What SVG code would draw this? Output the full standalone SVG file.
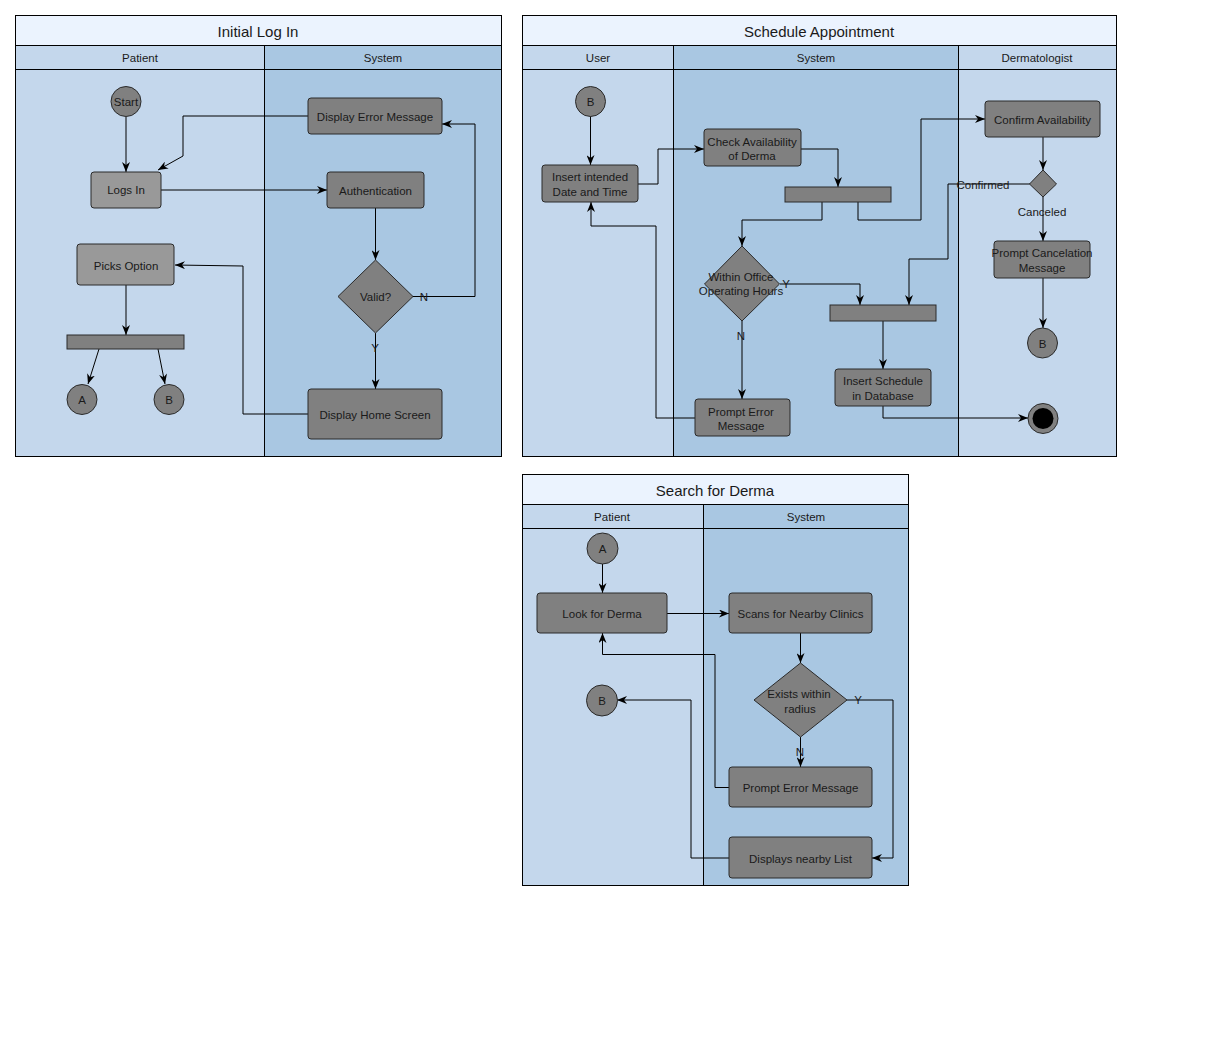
<svg xmlns="http://www.w3.org/2000/svg" width="1226" height="1058" viewBox="0 0 1226 1058">
<style>
text{font-family:"Liberation Sans",Arial,sans-serif;fill:#1a1a1a;font-size:11.5px;text-anchor:middle;dominant-baseline:central}
.title{font-size:15px}
.tb{fill:#ebf3fe;stroke:#000;stroke-width:1}
.la{fill:#c4d7ec;stroke:#000;stroke-width:1}
.lb{fill:#a9c7e2;stroke:#000;stroke-width:1}
.n{fill:#808080;stroke:#2a2a2a;stroke-width:1}
.nl{fill:#999999;stroke:#2a2a2a;stroke-width:1}
.c{fill:none;stroke:#000;stroke-width:1;marker-end:url(#ah)}
.cn{fill:none;stroke:#000;stroke-width:1}
</style>
<defs>
<marker id="ah" viewBox="0 0 10 8" refX="10" refY="4" markerWidth="10" markerHeight="8" orient="auto" markerUnits="userSpaceOnUse">
<path d="M0,0 L10,4 L0,8 L3,4 Z" fill="#000"/>
</marker>
</defs>
<rect width="1226" height="1058" fill="#fff"/>

<!-- Pool: Initial Log In -->
<g id="pool-login">
<rect class="la" x="15.5" y="45.5" width="249" height="411"/>
<rect class="lb" x="264.5" y="45.5" width="237" height="411"/>
<line class="cn" x1="15.5" y1="69.5" x2="501.5" y2="69.5"/>
<rect class="tb" x="15.5" y="15.5" width="486" height="30"/>
<text class="title" x="258" y="31">Initial Log In</text>
<text x="140" y="58">Patient</text>
<text x="383" y="58">System</text>
</g>

<!-- Pool: Schedule Appointment -->
<g id="pool-schedule">
<rect class="la" x="522.5" y="45.5" width="151" height="411"/>
<rect class="lb" x="673.5" y="45.5" width="285" height="411"/>
<rect class="la" x="958.5" y="45.5" width="158" height="411"/>
<line class="cn" x1="522.5" y1="69.5" x2="1116.5" y2="69.5"/>
<rect class="tb" x="522.5" y="15.5" width="594" height="30"/>
<text class="title" x="819" y="31">Schedule Appointment</text>
<text x="598" y="58">User</text>
<text x="816" y="58">System</text>
<text x="1037" y="58">Dermatologist</text>
</g>

<!-- Pool: Search for Derma -->
<g id="pool-search">
<rect class="la" x="522.5" y="504.5" width="181" height="381"/>
<rect class="lb" x="703.5" y="504.5" width="205" height="381"/>
<line class="cn" x1="522.5" y1="528.5" x2="908.5" y2="528.5"/>
<rect class="tb" x="522.5" y="474.5" width="386" height="30"/>
<text class="title" x="715" y="490">Search for Derma</text>
<text x="612" y="517">Patient</text>
<text x="806" y="517">System</text>
</g>

<!-- Connectors -->
<g id="connectors">
<!-- Initial Log In -->
<path class="c" d="M126,117 V172"/>
<path class="c" d="M308,116 H183 V156 L158,170"/>
<path class="c" d="M161,190 H327"/>
<path class="c" d="M375.5,208 V260"/>
<path class="c" d="M413,296.5 H475 V124 H442"/>
<path class="c" d="M375.5,333 V389"/>
<path class="c" d="M308,414 H243 V266 L175,265"/>
<path class="c" d="M126,285 V335"/>
<path class="c" d="M99,349 L88,384"/>
<path class="c" d="M158,349 L165,384"/>
<!-- Schedule -->
<path class="c" d="M590.5,116 V165"/>
<path class="c" d="M638,184 H658 V149 H704"/>
<path class="c" d="M801,149 H838 V187"/>
<path class="c" d="M822,202 V220 H742 V246"/>
<path class="c" d="M858,202 V220 H921 V119 H985"/>
<path class="c" d="M1043,137 V170"/>
<path class="c" d="M1030,184 H948 V259 H909 V305"/>
<path class="c" d="M1043,197 V241"/>
<path class="c" d="M1043,278 V328"/>
<path class="c" d="M780,284 H860 V305"/>
<path class="c" d="M742,321 V399"/>
<path class="c" d="M883,321 V369"/>
<path class="c" d="M883,406 V418 H1028"/>
<path class="c" d="M695,418 H656 V226 H591 V202"/>
<!-- Search -->
<path class="c" d="M602.5,564 V593"/>
<path class="c" d="M667,613.5 H729"/>
<path class="c" d="M800.5,633 V663"/>
<path class="c" d="M847,700 H893 V858 H872"/>
<path class="c" d="M800.5,737 V767"/>
<path class="c" d="M729,787.5 H715 V654.5 H602.5 V633"/>
<path class="c" d="M729,858 H691 V700 H617"/>
<!-- labels -->
<text x="424" y="297">N</text>
<text x="375" y="348">Y</text>
<text x="983" y="185">Confirmed</text>
<text x="1042" y="212">Canceled</text>
<text x="786" y="284">Y</text>
<text x="741" y="336">N</text>
<text x="858" y="700">Y</text>
<text x="800" y="752">N</text>
</g>

<!-- Nodes: Initial Log In -->
<g id="login-start"><circle class="n" cx="126" cy="101.5" r="15"/><text x="126" y="102">Start</text></g>
<g id="login-logsin"><rect class="nl" x="91" y="172" width="70" height="36" rx="3"/><text x="126" y="190">Logs In</text></g>
<g id="login-error"><rect class="n" x="308" y="98" width="134" height="36" rx="3"/><text x="375" y="117">Display Error Message</text></g>
<g id="login-auth"><rect class="n" x="327" y="172" width="97" height="36" rx="3"/><text x="375.5" y="191">Authentication</text></g>
<g id="login-valid"><polygon class="n" points="375.5,260 413,296.5 375.5,333 338,296.5"/><text x="375.5" y="297">Valid?</text></g>
<g id="login-home"><rect class="n" x="308" y="389" width="134" height="50" rx="3"/><text x="375" y="415">Display Home Screen</text></g>
<g id="login-picks"><rect class="nl" x="77" y="244" width="97" height="41" rx="3"/><text x="126" y="266">Picks Option</text></g>
<g id="login-fork"><rect class="n" x="67" y="335" width="117" height="14"/></g>
<g id="login-a"><circle class="n" cx="82" cy="399.5" r="15"/><text x="82" y="400">A</text></g>
<g id="login-b"><circle class="n" cx="169" cy="399.5" r="15"/><text x="169" y="400">B</text></g>

<!-- Nodes: Schedule -->
<g id="sched-b"><circle class="n" cx="590.5" cy="101.5" r="15"/><text x="590.5" y="102">B</text></g>
<g id="sched-insert"><rect class="n" x="542" y="165" width="96" height="37" rx="3"/><text x="590" y="177">Insert intended</text><text x="590" y="192">Date and Time</text></g>
<g id="sched-check"><rect class="n" x="704" y="129" width="97" height="37" rx="3"/><text x="752" y="142">Check Availability</text><text x="752" y="156">of Derma</text></g>
<g id="sched-fork"><rect class="n" x="785" y="187" width="106" height="15"/></g>
<g id="sched-confirm"><rect class="n" x="985" y="101" width="115" height="36" rx="3"/><text x="1042.5" y="120">Confirm Availability</text></g>
<g id="sched-decision"><polygon class="n" points="1043,170 1056.5,184 1043,197 1029.5,184"/></g>
<g id="sched-cancel"><rect class="n" x="994" y="241" width="96" height="37" rx="3"/><text x="1042" y="253">Prompt Cancelation</text><text x="1042" y="268">Message</text></g>
<g id="sched-b2"><circle class="n" cx="1042.5" cy="343" r="15"/><text x="1042.5" y="343.5">B</text></g>
<g id="sched-hours"><polygon class="n" points="742,246 779.5,284 742,321 704.5,284"/><text x="741" y="277">Within Office</text><text x="741" y="291">Operating Hours</text></g>
<g id="sched-join"><rect class="n" x="830" y="305" width="106" height="16"/></g>
<g id="sched-db"><rect class="n" x="835" y="369" width="96" height="37" rx="3"/><text x="883" y="381">Insert Schedule</text><text x="883" y="396">in Database</text></g>
<g id="sched-error"><rect class="n" x="695" y="399" width="95" height="37" rx="3"/><text x="741" y="412">Prompt Error</text><text x="741" y="426">Message</text></g>
<g id="sched-end"><circle class="n" cx="1043" cy="418.5" r="15"/><circle cx="1043" cy="418.5" r="10.5" fill="#000"/></g>

<!-- Nodes: Search -->
<g id="search-a"><circle class="n" cx="602.5" cy="548.5" r="15.5"/><text x="602.5" y="549">A</text></g>
<g id="search-look"><rect class="n" x="537" y="593" width="130" height="40" rx="3"/><text x="602" y="614">Look for Derma</text></g>
<g id="search-scan"><rect class="n" x="729" y="593" width="143" height="40" rx="3"/><text x="800.5" y="614">Scans for Nearby Clinics</text></g>
<g id="search-exists"><polygon class="n" points="800.5,663 847,700 800.5,737 754,700"/><text x="799" y="694">Exists within</text><text x="800" y="709">radius</text></g>
<g id="search-b"><circle class="n" cx="602" cy="700.5" r="15.5"/><text x="602" y="701">B</text></g>
<g id="search-error"><rect class="n" x="729" y="767" width="143" height="40" rx="3"/><text x="800.5" y="788">Prompt Error Message</text></g>
<g id="search-list"><rect class="n" x="729" y="837" width="143" height="41" rx="3"/><text x="800.5" y="859">Displays nearby List</text></g>
</svg>
